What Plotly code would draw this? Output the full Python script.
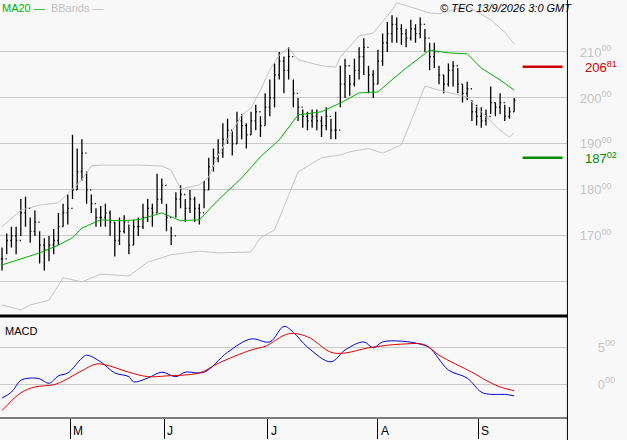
import plotly.graph_objects as go

# daily bars, index 0..109
close = [165.0, 169.0, 170.0, 169.0, 175.0, 176.0, 171.0, 173.0, 168.0, 167.0,
         168.0, 169.0, 172.0, 175.0, 176.0, 180.0, 184.0, 188.0, 180.0, 177.0,
         174.0, 174.0, 175.0, 173.0, 169.0, 171.0, 173.0, 168.0, 172.0, 172.0,
         174.0, 176.0, 175.0, 178.0, 181.0, 174.0, 170.0, 178.0, 179.0, 176.0,
         178.0, 176.0, 175.0, 180.0, 185.0, 187.0, 188.0, 191.0, 193.0, 190.0,
         195.0, 194.0, 192.0, 195.0, 197.0, 194.0, 198.0, 200.0, 205.0, 208.0,
         206.0, 209.0, 201.0, 198.0, 196.0, 195.0, 196.0, 195.0, 194.0, 196.0,
         193.0, 193.0, 203.0, 207.0, 203.0, 206.0, 209.0, 211.0, 205.0, 203.0,
         208.0, 212.0, 214.0, 216.0, 215.0, 214.0, 213.0, 215.0, 214.0, 216.0,
         213.0, 209.0, 210.0, 205.0, 203.0, 206.0, 207.0, 203.0, 201.0, 202.0,
         197.0, 196.0, 195.0, 196.0, 199.0, 198.0, 199.0, 196.0, 197.0, 199.5]
high = [167.5, 170.5, 172.0, 172.0, 178.0, 178.5, 174.0, 175.5, 171.0, 169.5,
        170.0, 171.5, 175.0, 177.0, 179.0, 192.0, 189.0, 191.0, 184.0, 179.0,
        176.0, 176.5, 177.0, 175.5, 173.0, 174.0, 174.5, 172.5, 173.5, 174.0,
        177.0, 178.0, 177.0, 183.5, 182.5, 177.0, 172.0, 179.5, 181.0, 178.0,
        180.0, 178.5, 177.0, 182.0, 187.0, 189.0, 191.0, 194.5, 195.5, 193.0,
        197.0, 196.5, 194.5, 197.0, 198.5, 196.0, 201.0, 204.0, 207.5, 210.0,
        209.0, 211.0, 204.0, 200.0, 197.5, 197.0, 197.5, 197.5, 196.0, 198.0,
        195.5, 197.0, 207.0, 208.5, 205.0, 208.5, 211.0, 213.0, 207.0, 206.0,
        210.5, 214.0, 216.5, 218.0, 217.5, 216.0, 215.0, 217.0, 216.0, 217.5,
        215.0, 212.0, 212.0, 207.0, 205.0, 207.5, 208.0, 206.5, 203.0, 203.5,
        199.5, 198.5, 198.0, 197.5, 202.5, 199.0, 201.0, 198.5, 198.0, 200.0]
low = [162.5, 166.0, 167.5, 166.0, 170.0, 172.0, 168.5, 170.0, 164.0, 162.5,
       164.5, 166.0, 168.0, 172.0, 172.5, 178.0, 180.0, 182.0, 177.0, 175.0,
       172.0, 172.0, 172.0, 170.0, 165.5, 168.0, 170.5, 166.0, 168.0, 170.0,
       171.5, 173.0, 172.0, 175.0, 177.0, 171.0, 168.0, 174.0, 176.0, 173.0,
       175.0, 173.0, 172.5, 176.0, 180.0, 184.0, 186.0, 187.0, 190.0, 187.5,
       190.0, 191.0, 189.0, 192.0, 193.0, 191.5, 194.0, 196.0, 198.0, 204.0,
       201.0, 204.0, 198.0, 195.0, 193.5, 193.0, 193.5, 193.0, 191.5, 193.0,
       191.0, 191.0, 198.0, 200.0, 200.5, 202.5, 204.0, 205.0, 201.0, 200.0,
       203.0, 207.0, 210.0, 212.0, 212.0, 211.5, 211.0, 212.5, 212.0, 213.0,
       210.0, 206.0, 206.5, 203.0, 201.0, 202.5, 202.5, 201.0, 199.0, 199.5,
       195.0, 194.0, 193.5, 194.0, 196.5, 196.0, 196.5, 195.0, 195.5, 197.0]
opens = [close[0]] + close[:-1]

# MA20 and Bollinger bands, sampled
ma_idx = [0, 4, 8, 12, 15, 17, 21, 25, 29, 34, 38, 42, 46, 51, 55, 59, 63, 68, 72, 76, 80, 85, 89, 91, 95, 99, 102, 106, 109]
ma20 = [163.7, 165.0, 166.3, 168.0, 169.6, 171.7, 173.5, 173.3, 173.5, 175.0, 173.3, 173.5, 177.8, 182.6, 187.2, 190.9, 196.3, 197.0, 198.9, 201.1, 201.3, 205.7, 208.7, 210.4, 209.8, 209.6, 206.5, 203.9, 201.7]
up_idx = [0, 4, 8, 12, 17, 19, 21, 29, 34, 36, 38, 40, 42, 44, 46, 51, 53, 55, 57, 59, 61, 63, 68, 71, 72, 76, 79, 83, 84, 91, 93, 99, 104, 107, 109]
bb_up = [172.0, 175.6, 176.7, 177.2, 182.2, 185.2, 185.4, 185.4, 185.2, 184.3, 180.2, 180.7, 181.1, 182.8, 187.6, 196.3, 197.8, 201.7, 206.1, 209.3, 210.9, 208.3, 207.0, 206.7, 208.9, 213.5, 214.1, 219.1, 220.7, 218.5, 218.3, 220.0, 217.0, 214.3, 211.7]
lo_idx = [0, 4, 6, 10, 13, 17, 21, 27, 31, 36, 42, 46, 53, 55, 58, 61, 63, 68, 72, 74, 78, 81, 85, 88, 90, 93, 99, 102, 106, 108, 109]
bb_lo = [155.0, 153.9, 155.0, 156.0, 160.9, 160.0, 161.7, 161.3, 164.3, 165.9, 166.7, 166.3, 166.5, 169.6, 171.3, 178.9, 183.9, 187.0, 187.6, 188.3, 189.0, 188.0, 189.8, 197.4, 202.6, 201.7, 200.2, 197.0, 193.0, 191.5, 192.4]

# MACD, sampled
mb_idx = [0, 2, 4, 6, 8, 10, 12, 14, 17, 18, 21, 24, 27, 28, 31, 34, 37, 39, 43, 48, 53, 57, 60, 62, 65, 70, 73, 77, 79, 81, 85, 89, 91, 95, 99, 102, 104, 107, 109]
macd = [-1.9, -1.1, 0.5, 0.8, 0.7, 0.1, 1.1, 1.5, 3.5, 3.9, 3.0, 1.5, 1.0, 0.3, 0.8, 1.6, 1.0, 1.6, 1.6, 4.3, 6.1, 5.7, 7.8, 7.0, 5.0, 3.0, 4.6, 5.7, 4.9, 5.7, 5.8, 5.4, 4.9, 1.9, 0.8, -1.1, -1.4, -1.4, -1.6]
ms_idx = [0, 4, 7, 11, 13, 17, 20, 22, 27, 31, 35, 42, 46, 53, 56, 61, 65, 70, 73, 78, 85, 90, 93, 100, 103, 106, 109]
signal = [-3.6, -1.2, -0.4, -0.1, 0.4, 1.8, 2.7, 2.6, 1.6, 1.0, 1.1, 1.5, 2.8, 4.6, 5.1, 6.8, 6.4, 4.3, 4.2, 4.9, 5.4, 5.3, 3.9, 1.6, 0.5, -0.4, -0.9]

month_idx = [14.5, 34.5, 56.6, 80, 101.3]
month_lbl = ["M", "J", "J", "A", "S"]
resist, support = 206.81, 187.02
price_ticks = [170, 180, 190, 200, 210]

grey = "#c4c4c4"
fig = go.Figure()
fig.add_trace(go.Scatter(x=up_idx, y=bb_up, mode="lines", line=dict(color=grey, width=1)))
fig.add_trace(go.Scatter(x=lo_idx, y=bb_lo, mode="lines", line=dict(color=grey, width=1)))
fig.add_trace(go.Ohlc(x=list(range(len(close))), open=opens, high=high, low=low, close=close,
                      increasing_line_color="black", decreasing_line_color="black",
                      line_width=1.3, tickwidth=0.25))
fig.add_trace(go.Scatter(x=ma_idx, y=ma20, mode="lines", line=dict(color="#00b000", width=1)))
fig.add_trace(go.Scatter(x=[110.8, 119.3], y=[resist] * 2, mode="lines", line=dict(color="#d00000", width=2.5)))
fig.add_trace(go.Scatter(x=[110.8, 119.3], y=[support] * 2, mode="lines", line=dict(color="#008c00", width=2.5)))
fig.add_trace(go.Scatter(x=mb_idx, y=macd, mode="lines", line=dict(color="#0000e0", width=1, shape="spline"), xaxis="x2", yaxis="y2"))
fig.add_trace(go.Scatter(x=ms_idx, y=signal, mode="lines", line=dict(color="#e00000", width=1, shape="spline"), xaxis="x2", yaxis="y2"))

xr = [-0.43, 120.2]
fig.update_layout(
    width=627, height=440, margin=dict(l=0, r=0, t=0, b=0),
    paper_bgcolor="#f8f8f8", plot_bgcolor="#f8f8f8", showlegend=False,
    font=dict(family="Liberation Sans", size=12),
    xaxis=dict(domain=[0, 0.904], range=xr, showgrid=False, showticklabels=False,
               zeroline=False, rangeslider=dict(visible=False)),
    yaxis=dict(domain=[0.282, 1], range=[152.6, 221.3], side="right",
               tickvals=[160] + price_ticks, ticklabelstandoff=12,
               ticktext=[""] + [f"{v}<sup>00</sup>" for v in price_ticks],
               tickfont=dict(color=grey, size=13), gridcolor="#c8c8c8", zeroline=False),
    xaxis2=dict(domain=[0, 0.904], range=xr, anchor="y2", showgrid=False, zeroline=False,
                tickvals=month_idx, ticktext=[""] * 5, ticks="outside", ticklen=20,
                tickcolor="black", showline=False),
    yaxis2=dict(domain=[0.05, 0.277], range=[-4.6, 8.92], side="right", anchor="x2",
                tickvals=[0, 5], ticktext=["0<sup>00</sup>", "5<sup>00</sup>"], ticklabelstandoff=30,
                tickfont=dict(color=grey, size=13), gridcolor="#c8c8c8", zeroline=False),
)
for x, t in zip(month_idx, month_lbl):
    fig.add_annotation(x=x, xref="x2", y=0.0, yref="paper", text=t, showarrow=False,
                       xanchor="left", yanchor="bottom", xshift=1, font=dict(size=12, color="black"))
fig.add_annotation(x=0.93, xref="paper", y=resist, yref="y", text="206<sup>81</sup>", showarrow=False,
                   xanchor="left", font=dict(color="#d00000", size=13))
fig.add_annotation(x=0.93, xref="paper", y=support, yref="y", text="187<sup>02</sup>", showarrow=False,
                   xanchor="left", font=dict(color="#008c00", size=13))
fig.add_annotation(x=0, xref="paper", y=1, yref="paper", showarrow=False, xanchor="left", yanchor="top",
                   text="<span style='color:#00b000'>MA20 —</span>  <span style='color:#c0c0c0'>BBands —</span>",
                   font=dict(size=11), bgcolor="#f8f8f8")
fig.add_annotation(x=0.915, xref="paper", y=1, yref="paper", showarrow=False, xanchor="right", yanchor="top",
                   text="<i>© TEC 13/9/2026 3:0 GMT</i>", font=dict(size=11, color="black"))
fig.add_annotation(x=0.005, xref="paper", y=0.265, yref="paper", showarrow=False, xanchor="left", yanchor="top",
                   text="MACD", font=dict(size=11, color="black"))
# frame lines
fig.add_shape(type="line", xref="paper", yref="paper", x0=0.905, x1=0.905, y0=0, y1=1, line=dict(color="black", width=1))
fig.add_shape(type="line", xref="paper", yref="paper", x0=0, x1=0.905, y0=0.282, y1=0.282, line=dict(color="black", width=3))
fig.add_shape(type="line", xref="paper", yref="paper", x0=0, x1=0.905, y0=0.05, y1=0.05, line=dict(color="black", width=1))
fig.write_html("out.html", config={"displayModeBar": False},
               post_script="document.body.style.margin='0';")
